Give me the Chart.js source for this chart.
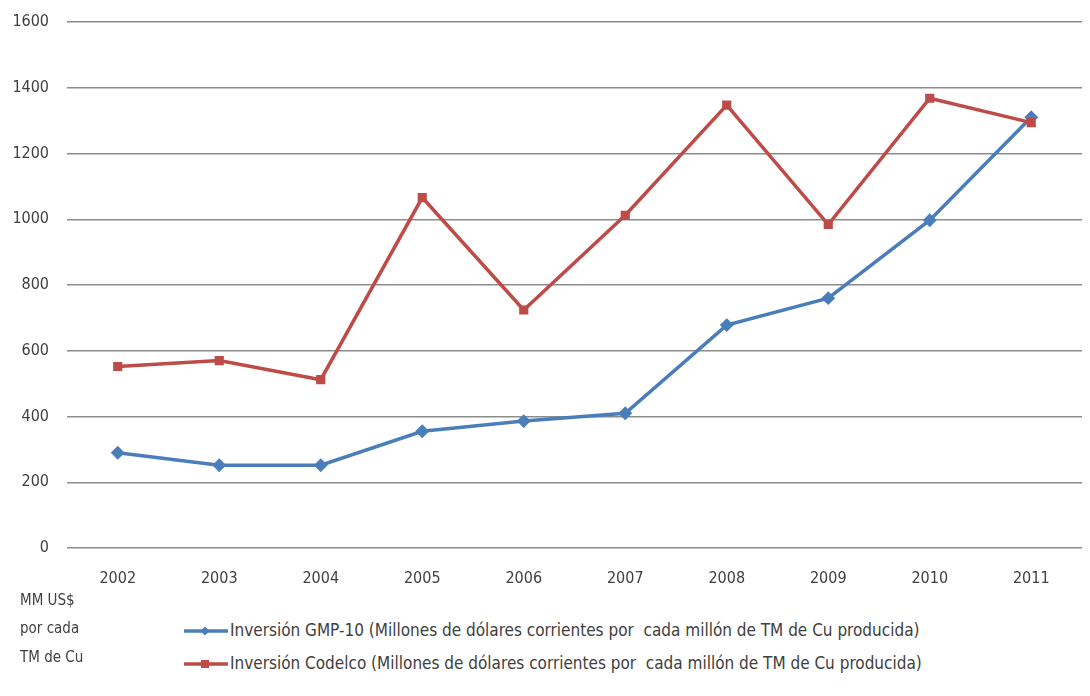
<!DOCTYPE html>
<html>
<head>
<meta charset="utf-8">
<script src="https://cdn.jsdelivr.net/npm/chart.js@4/dist/chart.umd.min.js"></script>
<style>
  html, body { margin: 0; padding: 0; background: #fff; }
  #wrap { position: relative; width: 1090px; height: 696px; font-family: 'Liberation Sans Narrow', 'DejaVu Sans Condensed', sans-serif; color: #404040; }
  #box { position: absolute; left: 0; top: 0; width: 1090px; height: 600px; }
  .note { position: absolute; left: 20px; font-size: 15px; line-height: 15px; }
  .leg { position: absolute; left: 184px; font-size: 17px; line-height: 16px; white-space: pre; }
  .leg svg { vertical-align: middle; margin-right: 2px; }
</style>
</head>
<body>
<div id="wrap">
  <div id="box"><canvas id="chartInversion"></canvas></div>
  <div class="note" style="top:593px">MM US$</div>
  <div class="note" style="top:621px">por cada</div>
  <div class="note" style="top:650px">TM de Cu</div>
  <div id="legend"></div>
</div>
<script>
// Inversion por cada millon de TM de Cu producida
const years = ['2002', '2003', '2004', '2005', '2006', '2007', '2008', '2009', '2010', '2011'];
const gmp10 = [290, 252, 252, 355, 386, 410, 678, 760, 997, 1310];
const codelco = [552, 570, 512, 1066, 724, 1012, 1347, 984, 1368, 1294];
const seriesNames = [
    'Inversión GMP-10 (Millones de dólares corrientes por  cada millón de TM de Cu producida)',
    'Inversión Codelco (Millones de dólares corrientes por  cada millón de TM de Cu producida)'
];
const yTicks = { min: 0, max: 1600, step: 200 };

const blue = '#4a7ebb';
const red = '#be4b48';
const fontFamily = "'Liberation Sans Narrow', 'DejaVu Sans Condensed', sans-serif";

const ctx = document.getElementById('chartInversion');
const chart = new Chart(ctx, {
    type: 'line',
    data: {
        labels: years,
        datasets: [{
            label: seriesNames[0],
            data: gmp10,
            borderColor: blue,
            backgroundColor: blue,
            borderWidth: 3.5,
            pointStyle: 'rectRot',
            pointRadius: 4.5,
            tension: 0,
            order: 1
        }, {
            label: seriesNames[1],
            data: codelco,
            borderColor: red,
            backgroundColor: red,
            borderWidth: 3.5,
            pointStyle: 'rect',
            pointRadius: 4,
            tension: 0,
            order: 0
        }]
    },
    options: {
        responsive: true,
        maintainAspectRatio: false,
        animation: false,
        layout: { padding: { top: 22, left: 0, right: 2, bottom: 0 } },
        scales: {
            x: {
                offset: true,
                grid: { display: false, drawTicks: false },
                border: { display: false },
                ticks: { color: '#404040', padding: 21, font: { family: fontFamily, size: 16 }, maxRotation: 0 },
                afterFit: function(s) { s.height = 52; }
            },
            y: {
                min: yTicks.min,
                max: yTicks.max,
                grid: { color: '#8c8c8c', lineWidth: 1.5, drawTicks: false },
                border: { display: false },
                ticks: {
                    stepSize: yTicks.step,
                    color: '#404040',
                    padding: 18,
                    font: { family: fontFamily, size: 16 },
                    callback: function(v) { return String(v); }
                },
                afterFit: function(s) { s.width = 67; s.paddingTop = 10; }
            }
        },
        plugins: {
            legend: { display: false },
            tooltip: { enabled: false }
        }
    }
});

// legend below the plot, one row per series
const legendTops = [622, 655];
const legendEl = document.getElementById('legend');
chart.data.datasets.forEach(function(ds, i) {
    const row = document.createElement('div');
    row.className = 'leg';
    row.style.top = legendTops[i] + 'px';
    const marker = ds.pointStyle === 'rectRot'
        ? '<polygon points="21,1.5 25.5,6 21,10.5 16.5,6" fill="' + ds.borderColor + '"/>'
        : '<rect x="17" y="2" width="8" height="8" fill="' + ds.borderColor + '"/>';
    row.innerHTML = '<svg width="44" height="12"><line x1="0" y1="6" x2="44" y2="6" stroke="' + ds.borderColor + '" stroke-width="3.5"/>' + marker + '</svg>';
    row.appendChild(document.createTextNode(ds.label));
    legendEl.appendChild(row);
});
</script>
</body>
</html>
